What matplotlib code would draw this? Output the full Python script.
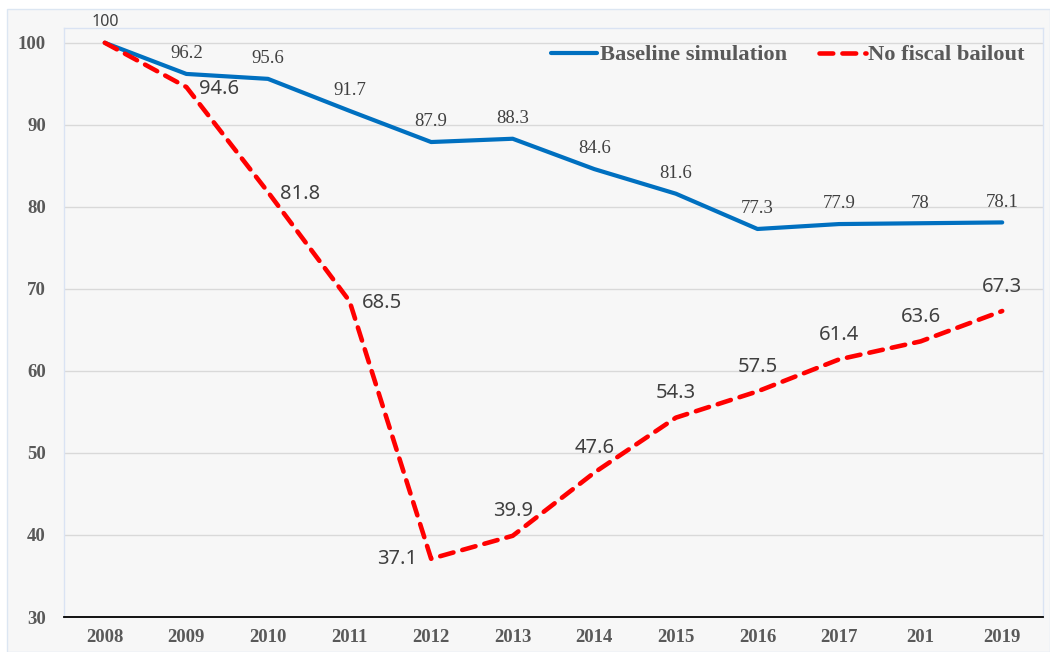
import matplotlib
matplotlib.use("Agg")
import matplotlib.pyplot as plt
from matplotlib.patches import Rectangle

years = ["2008", "2009", "2010", "2011", "2012", "2013", "2014", "2015", "2016", "2017", "201", "2019"]
baseline = [100, 96.2, 95.6, 91.7, 87.9, 88.3, 84.6, 81.6, 77.3, 77.9, 78, 78.1]
no_bailout = [100, 94.6, 81.8, 68.5, 37.1, 39.9, 47.6, 54.3, 57.5, 61.4, 63.6, 67.3]
baseline_labels = ["100", "96.2", "95.6", "91.7", "87.9", "88.3", "84.6", "81.6", "77.3", "77.9", "78", "78.1"]
bailout_labels = ["", "94.6", "81.8", "68.5", "37.1", "39.9", "47.6", "54.3", "57.5", "61.4", "63.6", "67.3"]
# label placement for red series: 'r' right, 'l' left, 'a' above
bailout_pos = ["", "r", "r", "r", "l", "a", "a", "a", "a", "a", "a", "a"]

W, H = 1050, 652
fig = plt.figure(figsize=(W / 100, H / 100), dpi=100)
fig.patch.set_facecolor("white")
bg = Rectangle((7 / W, 0), 1 - 7 / W, 1 - 9 / H, transform=fig.transFigure,
               facecolor="#f7f7f7", edgecolor="#dce6f2", lw=1, zorder=-10)
fig.patches.append(bg)

ax = fig.add_axes([64 / W, (H - 617) / H, (1043 - 64) / W, (617 - 28) / H])
ax.set_zorder(1)
ax.set_facecolor("#f7f7f7")
x = list(range(len(years)))

ax.plot(x, baseline, color="#0070C0", lw=3.0, solid_capstyle="round", solid_joinstyle="round",
        label="Baseline simulation", zorder=3)
ax.plot(x, no_bailout, color="#FF0000", lw=3.3, dashes=(3.0, 2.0), dash_capstyle="round",
        label="No fiscal bailout", zorder=4)

ax.set_xlim(-0.5, len(years) - 0.5)
ax.set_ylim(30, 101.8)
ax.set_yticks([30, 40, 50, 60, 70, 80, 90, 100])
ax.set_xticks(x)
ax.set_xticklabels(years)
ax.grid(axis="y", color="#d9d9d9", lw=1.0)
ax.set_axisbelow(True)
ax.tick_params(length=0)
ax.tick_params(axis="y", pad=13)
ax.tick_params(axis="x", pad=9)
for lab in ax.get_xticklabels() + ax.get_yticklabels():
    lab.set_fontfamily("Liberation Serif")
    lab.set_fontweight("bold")
    lab.set_fontsize(13.5)
    lab.set_color("#595959")

for side in ["left", "top", "right"]:
    ax.spines[side].set_color("#dae3f3")
    ax.spines[side].set_linewidth(1.0)
ax.spines["bottom"].set_color("black")
ax.spines["bottom"].set_linewidth(1.3)

# Blue labels (serif), above points
for i, (v, t) in enumerate(zip(baseline, baseline_labels)):
    if i == 0:
        ax.annotate(t, (i, v), xytext=(0, 15), textcoords="offset points", ha="center", va="center",
                    fontsize=11.5, family="Noto Sans", color="#404040")
    else:
        ax.annotate(t, (i, v), xytext=(0, 14.5), textcoords="offset points", ha="center", va="center",
                    fontsize=13.5, family="Liberation Serif", color="#404040")

# Red labels (sans)
for i, (v, t, p) in enumerate(zip(no_bailout, bailout_labels, bailout_pos)):
    if not t:
        continue
    if p == "r":
        ax.annotate(t, (i, v), xytext=(9, -1.5), textcoords="offset points", ha="left", va="center",
                    fontsize=14.5, family="Noto Sans", color="#404040")
    elif p == "l":
        ax.annotate(t, (i, v), xytext=(-10, 0), textcoords="offset points", ha="right", va="center",
                    fontsize=14.5, family="Noto Sans", color="#404040")
    else:
        ax.annotate(t, (i, v), xytext=(0, 17.5), textcoords="offset points", ha="center", va="center",
                    fontsize=14.5, family="Noto Sans", color="#404040")

leg = ax.legend(loc="center right", bbox_to_anchor=((1025 - 64) / 979, (617 - 55) / 589), ncol=2,
                frameon=False, borderpad=0, borderaxespad=0, handlelength=2.05, handletextpad=0.13,
                columnspacing=1.42, prop={"family": "Liberation Serif", "weight": "bold", "size": 16.2})
for t in leg.get_texts():
    t.set_color("#595959")

fig.savefig("out.png", dpi=100, facecolor=fig.get_facecolor())
